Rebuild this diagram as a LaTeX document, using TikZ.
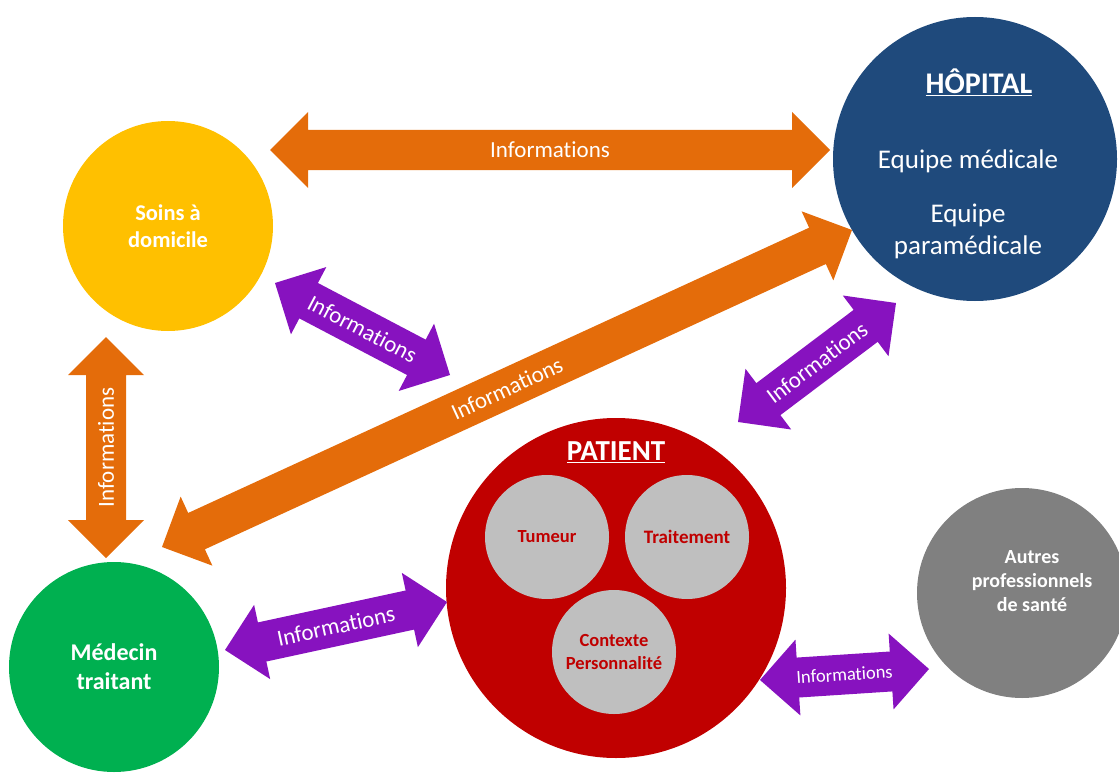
\documentclass[tikz,border=0pt]{standalone}
\usepackage{fontspec}
\setmainfont{Carlito}[Ligatures=NoCommon]
\usetikzlibrary{calc}
\definecolor{cyellow}{HTML}{FFC000}
\definecolor{cnavy}{HTML}{1F4A7C}
\definecolor{cred}{HTML}{C00000}
\definecolor{cgreen}{HTML}{00B050}
\definecolor{cgray}{HTML}{808080}
\definecolor{clight}{HTML}{BFBFBF}
\definecolor{corange}{HTML}{E46C0A}
\definecolor{cpurple}{HTML}{8712BF}
\newcommand{\infoarrow}[6]{%
  \fill[#1] (#2) -- ($(#2)!38pt!(#3)!38pt!90:(#3)$) -- ($(#2)!38pt!(#3)!20pt!90:(#3)$)
    -- ($(#3)!38pt!(#2)!20pt!-90:(#2)$) -- ($(#3)!38pt!(#2)!38pt!-90:(#2)$) -- (#3)
    -- ($(#3)!38pt!(#2)!38pt!90:(#2)$) -- ($(#3)!38pt!(#2)!20pt!90:(#2)$)
    -- ($(#2)!38pt!(#3)!20pt!-90:(#3)$) -- ($(#2)!38pt!(#3)!38pt!-90:(#3)$) -- cycle;
  \path (#2) -- node[sloped, text=white, inner sep=0pt, font=#4] (#5) {#6} (#3);
}
\tikzset{
  disc/.style={circle, inner sep=0pt, align=center, text=white},
  inner/.style={circle, inner sep=0pt, minimum size=124pt, fill=clight, text=cred, align=center},
}
\begin{document}
\begin{tikzpicture}[x=1pt,y=-1pt]
\useasboundingbox (0,0) rectangle (1119,773);
% circles
\node[disc, fill=cyellow, minimum size=210pt, font=\fontsize{22.5}{27}\selectfont\bfseries] (soins) at (168,226) {Soins à\\domicile};
\node[disc, fill=cnavy, minimum size=284pt] (hopital) at (975,159) {};
\node[text=white, font=\fontsize{30}{34}\selectfont\bfseries] (hoptitle) at (979,82) {\underline{HÔPITAL}};
\node[text=white, font=\fontsize{27}{32}\selectfont] (eqmed) at (968,161) {Equipe médicale};
\node[text=white, align=center, font=\fontsize{27}{32}\selectfont] (eqpara) at (968,231) {Equipe\\paramédicale};
\node[disc, fill=cred, minimum size=340pt] (patient) at (616,588) {};
\node[text=white, font=\fontsize{29}{34}\selectfont\bfseries] (pattitle) at (616,452) {\underline{PATIENT}};
\node[inner, font=\fontsize{18.5}{23}\selectfont\bfseries] (tumeur) at (547,537) {Tumeur};
\node[inner, font=\fontsize{19}{23}\selectfont\bfseries] (traitement) at (687,537) {Traitement};
\node[inner, font=\fontsize{18.5}{23}\selectfont\bfseries] (contexte) at (614,652) {Contexte\\Personnalité};
\node[disc, fill=cgreen, minimum size=210pt, font=\fontsize{24}{29}\selectfont\bfseries] (medecin) at (114,667) {Médecin\\traitant};
\node[disc, fill=cgray, minimum size=210pt] (autres) at (1022,593) {};
\node[text=white, align=center, font=\fontsize{20}{24}\selectfont\bfseries] (autrestxt) at (1032,581) {Autres\\professionnels\\de santé};
% arrow ends
\coordinate (a1) at (270,150); \coordinate (b1) at (830,150);
\coordinate (a2) at (275,283); \coordinate (b2) at (450,375);
\coordinate (a3) at (106,558); \coordinate (b3) at (106,337);
\coordinate (a4) at (162,547); \coordinate (b4) at (852,230);
\coordinate (a5) at (738,422); \coordinate (b5) at (896,303);
\coordinate (a6) at (225,650); \coordinate (b6) at (447,602);
\coordinate (a7) at (760,680); \coordinate (b7) at (929,669);
\infoarrow{corange}{a1}{b1}{\fontsize{23}{27}\selectfont}{l1}{Informations}
\infoarrow{cpurple}{a2}{b2}{\fontsize{23}{27}\selectfont}{l2}{Informations}
\infoarrow{corange}{a3}{b3}{\fontsize{23}{27}\selectfont}{l3}{Informations}
\infoarrow{corange}{a4}{b4}{\fontsize{23}{27}\selectfont}{l4}{Informations}
\infoarrow{cpurple}{a5}{b5}{\fontsize{23}{27}\selectfont}{l5}{Informations}
\infoarrow{cpurple}{a6}{b6}{\fontsize{23}{27}\selectfont}{l6}{Informations}
\infoarrow{cpurple}{a7}{b7}{\fontsize{18.5}{22}\selectfont}{l7}{Informations}
\end{tikzpicture}
\end{document}
